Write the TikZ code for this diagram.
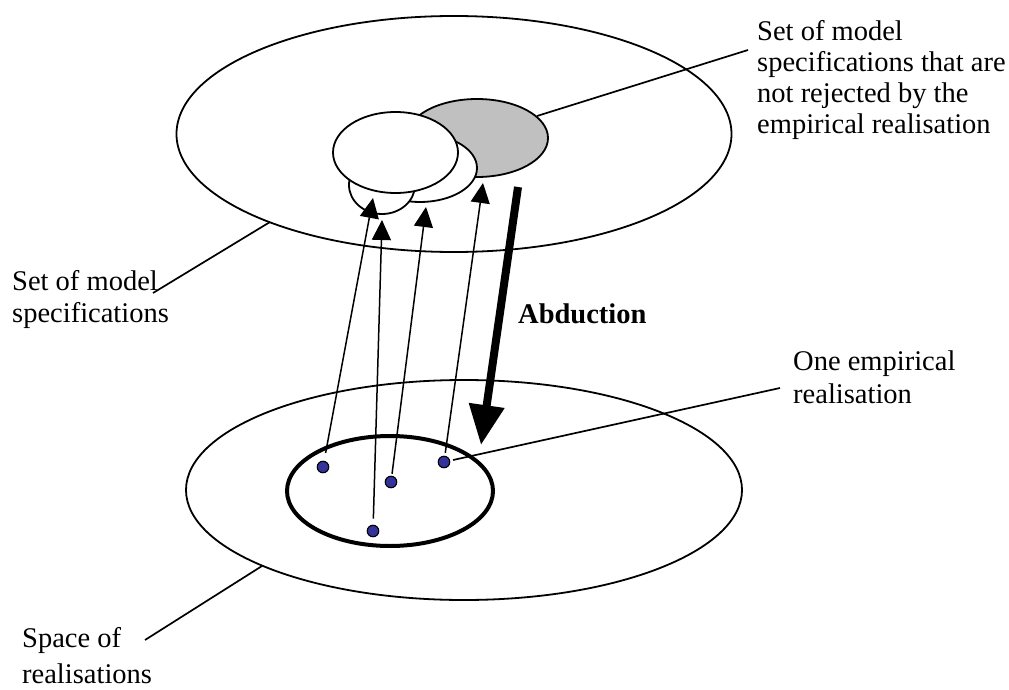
\documentclass[tikz,border=0pt]{standalone}
\usepackage{fontspec}
\setmainfont{Liberation Serif}
\usetikzlibrary{shapes.geometric,arrows.meta}
\definecolor{silverfill}{RGB}{192,192,192}
\definecolor{dotblue}{RGB}{51,51,153}
\begin{document}
\begin{tikzpicture}[x=1pt,y=-1pt,
  ell/.style={ellipse,draw,line width=1.8pt,inner sep=0pt,outer sep=0pt,fill=white},
  dotnode/.style={circle,draw,line width=1.1pt,fill=dotblue,minimum size=11.5pt,inner sep=0pt},
  lbl/.style={anchor=base west,inner sep=0pt,font=\fontsize{28.5}{32}\selectfont},
  leader/.style={line width=1.7pt},
  uparr/.style={line width=1.5pt,-{Triangle[length=20pt,width=19pt]}},
  bigarr/.style={line width=8pt,-{Triangle[length=40pt,width=34pt]}}
]
\useasboundingbox (0,0) rectangle (1009,690);

% big ellipses
\node[ell,minimum width=555pt,minimum height=236pt] (top) at (454,134) {};
\node[ell,minimum width=556pt,minimum height=220pt] (bottom) at (464,490) {};
\node[ell,line width=4pt,minimum width=206pt,minimum height=110pt] (inner) at (390,491) {};

% cluster of model specifications
\node[ell,fill=silverfill,minimum width=142pt,minimum height=78pt] (gray) at (477,138) {};
\node[ell,minimum width=114pt,minimum height=68pt] (mid) at (420,168) {};
\node[ell,minimum width=66pt,minimum height=58pt] (small) at (382,185) {};
\node[ell,minimum width=125pt,minimum height=81pt] (front) at (395.5,152.5) {};

% realisations
\node[dotnode] (d1) at (323,467) {};
\node[dotnode] (d2) at (391,482) {};
\node[dotnode] (d3) at (444,462) {};
\node[dotnode] (d4) at (373,531) {};

\coordinate (t1) at (373,198);
\coordinate (t2) at (426,207);
\coordinate (t3) at (483,183);
\coordinate (t4) at (382,220);

\draw[uparr,shorten <=8pt] (d1) -- (t1);
\draw[uparr,shorten <=2pt] (d2) -- (t2);
\draw[uparr,shorten <=3pt] (d3) -- (t3);
\draw[uparr,shorten <=6pt] (d4) -- (t4);

% abduction
\coordinate (abtop) at (518,187);
\coordinate (abtip) at (481,445);
\draw[bigarr] (abtop) -- (abtip);
\node[lbl,font=\fontsize{28.5}{32}\selectfont\bfseries] (abd) at (518,323) {Abduction};

% labels
\node[lbl] (r1) at (757,41) {Set of model};
\node[lbl] (r2) at (757,72) {specifications that are};
\node[lbl] (r3) at (757,103) {not rejected by the};
\node[lbl] (r4) at (757,134) {empirical realisation};

\node[lbl] (m1) at (12,290) {Set of model};
\node[lbl] (m2) at (12,322) {specifications};

\node[lbl] (o1) at (793,370) {One empirical};
\node[lbl] (o2) at (793,403) {realisation};

\node[lbl] (s1) at (22,647) {Space of};
\node[lbl] (s2) at (22,683) {realisations};

% leader lines
\coordinate (ga) at (537,116);
\coordinate (gb) at (748,50);
\draw[leader] (ga) -- (gb);
\coordinate (ta) at (270,222);
\coordinate (tb) at (153,293);
\draw[leader] (ta) -- (tb);
\coordinate (oa) at (780,388);
\draw[leader,shorten <=3pt] (d3) -- (oa);
\coordinate (ba) at (262,566);
\coordinate (bb) at (145,640);
\draw[leader] (ba) -- (bb);
\end{tikzpicture}
\end{document}
